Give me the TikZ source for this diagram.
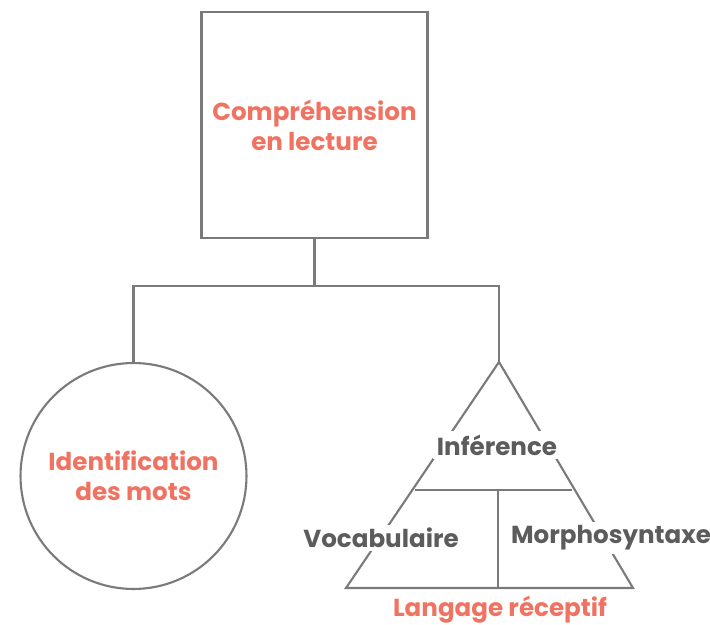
\documentclass[tikz,border=0pt]{standalone}
\usepackage{fontspec}
\setmainfont{Poppins}
\usetikzlibrary{positioning}
\definecolor{salmon}{HTML}{F07362}
\definecolor{linegray}{HTML}{7A7A7A}
\definecolor{textgray}{HTML}{5C5C5C}
\tikzset{
    box/.style={draw=linegray, line width=1.2pt, minimum size=4.52cm, inner sep=0pt},
    bubble/.style={draw=linegray, line width=1.2pt, circle, minimum size=4.52cm, inner sep=0pt},
    mainlabel/.style={text=salmon, font=\bfseries\fontsize{14}{17}\selectfont, align=center},
    partlabel/.style={text=textgray, font=\bfseries\fontsize{14}{17}\selectfont, fill=white, inner sep=2pt},
    link/.style={draw=linegray, line width=1.2pt}
}
\begin{document}
\begin{tikzpicture}[x=0.02cm, y=-0.02cm]
    \useasboundingbox (0,0) rectangle (710,625);

    % Top box
    \node[box, mainlabel] (comp) at (314.5,125) {Compréhension\\en lecture};

    % Circle
    \node[bubble, mainlabel] (ident) at (133.5,476) {Identification\\des mots};

    % Triangle
    \coordinate (apex) at (499,362);
    \coordinate (bl) at (346,588);
    \coordinate (br) at (633,588);
    \coordinate (ml) at (415,490);
    \coordinate (mr) at (572,490);
    \coordinate (mm) at (498,490);
    \coordinate (bm) at (498,588);
    \draw[link, line join=miter] (apex) -- (br) -- (bl) -- cycle;
    \draw[link] (ml) -- (mr);
    \draw[link] (mm) -- (bm);

    % Connectors
    \coordinate (split) at (314.5,286);
    \draw[link] (comp.south) -- (split);
    \draw[link] (ident.north) |- (split) -| (apex);

    % Triangle labels
    \node[partlabel] (infer) at (497,445) {Inférence};
    \node[partlabel] (vocab) at (381,538) {Vocabulaire};
    \node[partlabel] (morpho) at (611,538) {Morphosyntaxe};
    \node[mainlabel] (lang) at (500,610) {Langage réceptif};
\end{tikzpicture}
\end{document}
